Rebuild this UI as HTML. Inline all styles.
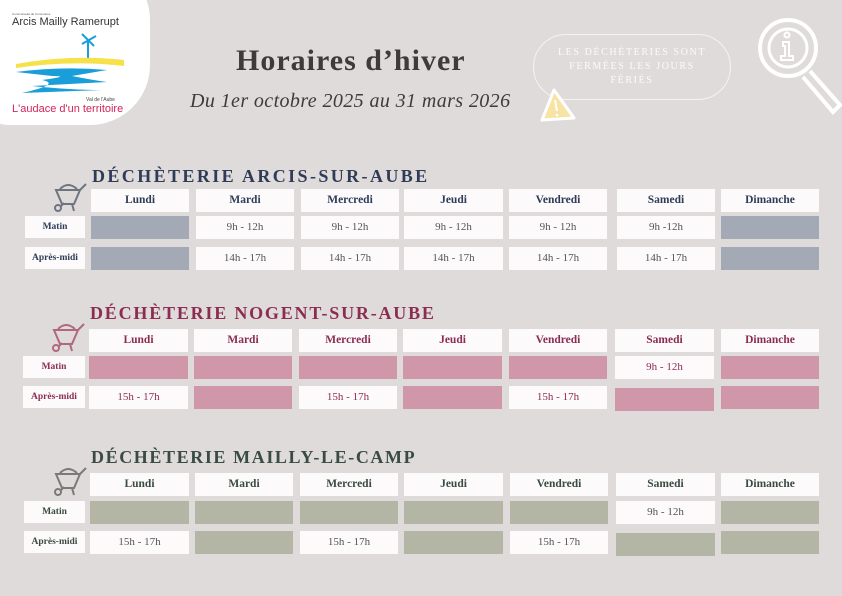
<!DOCTYPE html>
<html><head><meta charset="utf-8"><style>
body{margin:0;width:842px;height:596px;overflow:hidden;background:#dfdbdb;font-family:"Liberation Serif",serif;position:relative}
.a{position:absolute}
.c{position:absolute;background:#fcfafb;text-align:center;font-size:11px;line-height:23px;height:23px}
.h{font-weight:bold;font-size:11.5px}
.t{position:absolute;font-weight:bold;font-size:18px;letter-spacing:1.6px}
.l{position:absolute;background:#fcfafb;text-align:center;font-weight:bold;font-size:9.5px;line-height:22px;height:22px}
</style></head><body>
<div class="a" style="left:-30px;top:-40px;width:180px;height:165px;background:#fff;border-radius:0 60px 60px 40px"></div>
<div class="a" style="left:12px;top:12px;font-size:3px;color:#555;font-family:'Liberation Sans',sans-serif">Communauté de Communes</div>
<div class="a" style="left:12px;top:16px;font-size:11px;color:#333;font-family:'Liberation Sans',sans-serif">Arcis Mailly Ramerupt</div>
<svg class="a" style="left:12px;top:30px" width="115" height="65"><line x1="76" y1="10" x2="76" y2="28" stroke="#1a9ed9" stroke-width="2"/><path d="M70 4 L82 16 M84 6 L70 14" stroke="#1a9ed9" stroke-width="2"/><path d="M4 34 Q60 24 112 30 L112 36 Q60 30 4 38Z" fill="#f6e14a"/><path d="M4 42 Q50 36 95 40 L60 46 Q80 50 95 52 L20 56 Q60 60 90 60 L10 63 Q50 54 30 50 Q60 46 40 46Z" fill="#1a9ed9"/></svg>
<div class="a" style="left:86px;top:97px;font-size:5px;color:#444;font-family:'Liberation Sans',sans-serif">Val de l'Aube</div>
<div class="a" style="left:12px;top:103px;font-size:11px;color:#d4245a;font-family:'Liberation Sans',sans-serif">L'audace d'un territoire</div>
<div class="a" style="left:236px;top:44px;font-size:30px;font-weight:bold;color:#3d3b3b;letter-spacing:1px">Horaires d’hiver</div>
<div class="a" style="left:190px;top:90px;font-size:20px;font-style:italic;color:#3d3b3b;letter-spacing:0.4px">Du 1er octobre 2025 au 31 mars 2026</div>
<div class="a" style="left:533px;top:34px;width:198px;height:66px;border:1px solid #f4f2f2;border-radius:34px;color:#fbfafa;font-size:10px;letter-spacing:1.6px;text-align:center;line-height:14px;box-sizing:border-box;padding-top:11px">LES DÉCHÈTERIES SONT<br>FERMÉES LES JOURS<br>FÉRIÉS</div>
<svg class="a" style="left:538px;top:86px" width="44" height="38"><path d="M16 4 L36 32 L4 34Z" fill="#f7e3a3" stroke="#fff" stroke-width="3" stroke-linejoin="round"/><line x1="17" y1="14" x2="19" y2="25" stroke="#fff" stroke-width="2"/><circle cx="19" cy="29" r="1.3" fill="#fff"/></svg>
<svg class="a" style="left:755px;top:15px" width="87" height="105"><circle cx="33" cy="33" r="28" fill="none" stroke="#fff" stroke-width="4"/><circle cx="33" cy="33" r="19" fill="none" stroke="#fff" stroke-width="3"/><circle cx="32" cy="20" r="2.5" fill="none" stroke="#fff" stroke-width="2"/><path d="M28 27h6v14h4v4H26v-4h4v-10h-2z" fill="none" stroke="#fff" stroke-width="2"/><path d="M55 56 L85 90 L78 97 L48 62" fill="none" stroke="#fff" stroke-width="4"/></svg>

<div class="t" style="left:92px;top:166px;color:#2f3c57;letter-spacing:2.4px">DÉCHÈTERIE ARCIS-SUR-AUBE</div>
<div class="t" style="left:90px;top:303px;color:#8d2c52;letter-spacing:1.8px">DÉCHÈTERIE NOGENT-SUR-AUBE</div>
<div class="t" style="left:91px;top:447px;color:#3a4b40">DÉCHÈTERIE MAILLY-LE-CAMP</div>

<svg class="a" style="left:50px;top:182px" width="40" height="32"><g fill="none" stroke="#6f7580" stroke-width="2"><path d="M6 8 H30 L24 22 H12Z"/><path d="M30 8 L36 2"/><circle cx="8" cy="26" r="3"/><path d="M11 24 L14 21 M22 22 L24 29"/><path d="M10 7 Q18 -1 27 7"/></g></svg>
<svg class="a" style="left:48px;top:322px" width="40" height="32"><g fill="none" stroke="#b0687f" stroke-width="2"><path d="M6 8 H30 L24 22 H12Z"/><path d="M30 8 L36 2"/><circle cx="8" cy="26" r="3"/><path d="M11 24 L14 21 M22 22 L24 29"/><path d="M10 7 Q18 -1 27 7"/></g></svg>
<svg class="a" style="left:50px;top:466px" width="40" height="32"><g fill="none" stroke="#7a7a78" stroke-width="2"><path d="M6 8 H30 L24 22 H12Z"/><path d="M30 8 L36 2"/><circle cx="8" cy="26" r="3"/><path d="M11 24 L14 21 M22 22 L24 29"/><path d="M10 7 Q18 -1 27 7"/></g></svg>

<div style="color:#2f3c57">
<div class="c h" style="left:91px;top:189px;width:98px">Lundi</div><div class="c h" style="left:196px;top:189px;width:98px">Mardi</div><div class="c h" style="left:301px;top:189px;width:98px">Mercredi</div><div class="c h" style="left:404px;top:189px;width:99px">Jeudi</div><div class="c h" style="left:509px;top:189px;width:98px">Vendredi</div><div class="c h" style="left:617px;top:189px;width:98px">Samedi</div><div class="c h" style="left:721px;top:189px;width:98px">Dimanche</div>
<div class="l" style="left:25px;top:216px;width:60px">Matin</div><div class="l" style="left:25px;top:247px;width:60px">Après-midi</div>
</div>
<div style="color:#555">
<div class="c" style="left:91px;top:216px;width:98px;background:#a3a9b5"></div><div class="c" style="left:196px;top:216px;width:98px">9h - 12h</div><div class="c" style="left:301px;top:216px;width:98px">9h - 12h</div><div class="c" style="left:404px;top:216px;width:99px">9h - 12h</div><div class="c" style="left:509px;top:216px;width:98px">9h - 12h</div><div class="c" style="left:617px;top:216px;width:98px">9h -12h</div><div class="c" style="left:721px;top:216px;width:98px;background:#a3a9b5"></div>
<div class="c" style="left:91px;top:247px;width:98px;background:#a3a9b5"></div><div class="c" style="left:196px;top:247px;width:98px">14h - 17h</div><div class="c" style="left:301px;top:247px;width:98px">14h - 17h</div><div class="c" style="left:404px;top:247px;width:99px">14h - 17h</div><div class="c" style="left:509px;top:247px;width:98px">14h - 17h</div><div class="c" style="left:617px;top:247px;width:98px">14h - 17h</div><div class="c" style="left:721px;top:247px;width:98px;background:#a3a9b5"></div>
</div>

<div style="color:#8d2c52">
<div class="c h" style="left:89px;top:329px;width:99px">Lundi</div><div class="c h" style="left:194px;top:329px;width:98px">Mardi</div><div class="c h" style="left:299px;top:329px;width:98px">Mercredi</div><div class="c h" style="left:403px;top:329px;width:99px">Jeudi</div><div class="c h" style="left:509px;top:329px;width:98px">Vendredi</div><div class="c h" style="left:615px;top:329px;width:99px">Samedi</div><div class="c h" style="left:721px;top:329px;width:98px">Dimanche</div>
<div class="l" style="left:23px;top:356px;width:62px">Matin</div><div class="l" style="left:23px;top:386px;width:62px">Après-midi</div>
<div class="c" style="left:89px;top:356px;width:99px;background:#d096a9"></div><div class="c" style="left:194px;top:356px;width:98px;background:#d096a9"></div><div class="c" style="left:299px;top:356px;width:98px;background:#d096a9"></div><div class="c" style="left:403px;top:356px;width:99px;background:#d096a9"></div><div class="c" style="left:509px;top:356px;width:98px;background:#d096a9"></div><div class="c" style="left:615px;top:356px;width:99px">9h - 12h</div><div class="c" style="left:721px;top:356px;width:98px;background:#d096a9"></div>
<div class="c" style="left:89px;top:386px;width:99px">15h - 17h</div><div class="c" style="left:194px;top:386px;width:98px;background:#d096a9"></div><div class="c" style="left:299px;top:386px;width:98px">15h - 17h</div><div class="c" style="left:403px;top:386px;width:99px;background:#d096a9"></div><div class="c" style="left:509px;top:386px;width:98px">15h - 17h</div><div class="c" style="left:615px;top:388px;width:99px;background:#d096a9"></div><div class="c" style="left:721px;top:386px;width:98px;background:#d096a9"></div>
</div>

<div style="color:#3a4b40">
<div class="c h" style="left:90px;top:473px;width:99px">Lundi</div><div class="c h" style="left:195px;top:473px;width:98px">Mardi</div><div class="c h" style="left:300px;top:473px;width:98px">Mercredi</div><div class="c h" style="left:404px;top:473px;width:99px">Jeudi</div><div class="c h" style="left:510px;top:473px;width:98px">Vendredi</div><div class="c h" style="left:616px;top:473px;width:99px">Samedi</div><div class="c h" style="left:721px;top:473px;width:98px">Dimanche</div>
<div class="l" style="left:24px;top:501px;width:61px">Matin</div><div class="l" style="left:24px;top:531px;width:61px">Après-midi</div>
</div>
<div style="color:#555">
<div class="c" style="left:90px;top:501px;width:99px;background:#b3b6a5"></div><div class="c" style="left:195px;top:501px;width:98px;background:#b3b6a5"></div><div class="c" style="left:300px;top:501px;width:98px;background:#b3b6a5"></div><div class="c" style="left:404px;top:501px;width:99px;background:#b3b6a5"></div><div class="c" style="left:510px;top:501px;width:98px;background:#b3b6a5"></div><div class="c" style="left:616px;top:501px;width:99px">9h - 12h</div><div class="c" style="left:721px;top:501px;width:98px;background:#b3b6a5"></div>
<div class="c" style="left:90px;top:531px;width:99px">15h - 17h</div><div class="c" style="left:195px;top:531px;width:98px;background:#b3b6a5"></div><div class="c" style="left:300px;top:531px;width:98px">15h - 17h</div><div class="c" style="left:404px;top:531px;width:99px;background:#b3b6a5"></div><div class="c" style="left:510px;top:531px;width:98px">15h - 17h</div><div class="c" style="left:616px;top:533px;width:99px;background:#b3b6a5"></div><div class="c" style="left:721px;top:531px;width:98px;background:#b3b6a5"></div>
</div>
</body></html>
